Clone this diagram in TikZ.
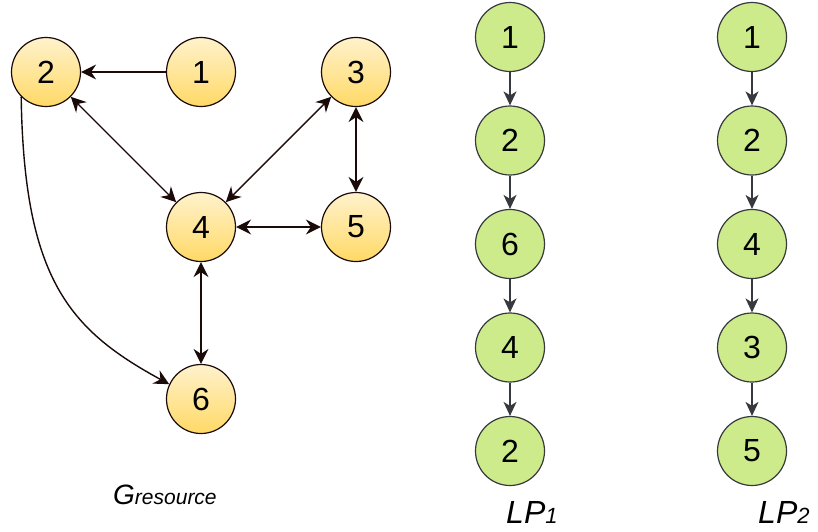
\documentclass[tikz,border=0pt]{standalone}
\usepackage{fontspec}
\setmainfont{Liberation Sans}
\usetikzlibrary{arrows.meta}
\definecolor{restop}{HTML}{FFF2CC}
\definecolor{resbot}{HTML}{FFD966}
\definecolor{resline}{HTML}{1A0A0A}
\definecolor{lpfill}{HTML}{CDEB8B}
\definecolor{lpline}{HTML}{36393D}

\begin{document}
\begin{tikzpicture}[x=1pt, y=-1pt,
    res/.style={circle, draw=resline, line width=1.2pt, minimum size=69pt, inner sep=0pt,
        top color=restop, bottom color=resbot, font=\fontsize{32}{38}\selectfont},
    lp/.style={circle, draw=lpline, line width=1.2pt, fill=lpfill, minimum size=69pt, inner sep=0pt,
        font=\fontsize{32}{38}\selectfont},
    tip/.tip={Stealth[length=15pt, width=15pt, inset=5pt]},
    link/.style={draw=resline, line width=1.4pt},
    step arrow/.style={draw=lpline, line width=1.4pt, -{Stealth[length=14pt, width=13pt, inset=4pt]}},
    caption/.style={anchor=base west, inner sep=0pt}]
    \useasboundingbox (0,0) rectangle (818,531);
    % resource graph
    \node[res] (g1) at (201,72) {1};
    \node[res] (g2) at (46,72) {2};
    \node[res] (g3) at (356,72) {3};
    \node[res] (g4) at (201,227) {4};
    \node[res] (g5) at (356,227) {5};
    \node[res] (g6) at (201,399) {6};
    \draw[link, -tip] (g1) -- (g2);
    \draw[link, tip-tip] (g2) -- (g4);
    \draw[link, tip-tip] (g3) -- (g4);
    \draw[link, tip-tip] (g3) -- (g5);
    \draw[link, tip-tip] (g4) -- (g5);
    \draw[link, tip-tip] (g4) -- (g6);
    \draw[link, -tip] (g2.225) .. controls (24,280) and (70,330) .. (g6.155);
    \node[caption] (gres) at (113,504) {\fontsize{28}{34}\selectfont\itshape G\fontsize{21}{25}\selectfont resource};
    % paths
    \foreach \lab [count=\i] in {1,2,6,4,2}
        \node[lp] (a\i) at (510,{37+103.5*(\i-1)}) {\lab};
    \foreach \lab [count=\i] in {1,2,4,3,5}
        \node[lp] (b\i) at (752,{37+103.5*(\i-1)}) {\lab};
    \foreach \i [evaluate=\i as \j using int(\i+1)] in {1,...,4} {
        \draw[step arrow] (a\i) -- (a\j);
        \draw[step arrow] (b\i) -- (b\j);
    }
    \node[caption] (lp1) at (506,523) {\fontsize{32}{38}\selectfont\itshape LP\fontsize{22}{26}\selectfont 1};
    \node[caption] (lp2) at (758,523) {\fontsize{32}{38}\selectfont\itshape LP\fontsize{22}{26}\selectfont 2};
\end{tikzpicture}
\end{document}
